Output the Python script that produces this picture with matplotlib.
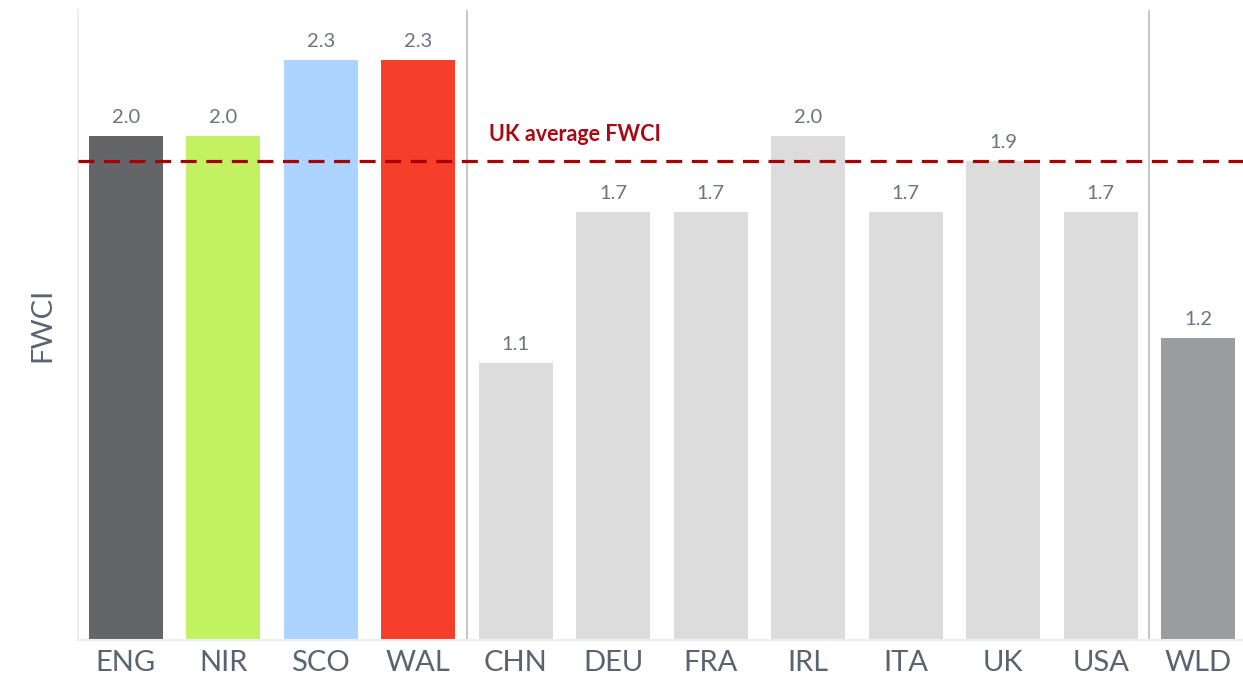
import matplotlib
matplotlib.use("Agg")
import matplotlib.pyplot as plt

# FWCI by country
countries = ["ENG", "NIR", "SCO", "WAL", "CHN", "DEU", "FRA", "IRL", "ITA", "UK", "USA", "WLD"]
fwci = [2.0, 2.0, 2.3, 2.3, 1.1, 1.7, 1.7, 2.0, 1.7, 1.9, 1.7, 1.2]
uk_average = 1.9
colors = ["#636569", "#c2f261", "#add3ff", "#f63f2a"] + ["#dcdcdc"] * 7 + ["#9b9c9e"]

plt.rcParams['font.family'] = ['Lato', 'DejaVu Sans']

fig = plt.figure(figsize=(12.43, 6.79), dpi=100)
ax = fig.add_axes([78 / 1243, 1 - 640 / 679, 1 - 78 / 1243, 630 / 679])

x = range(len(countries))
ax.bar(x, fwci, width=0.76, color=colors, zorder=2)

for i, v in enumerate(fwci):
    ax.text(i, v + 0.04, f"{v:.1f}", ha="center", va="bottom",
            fontsize=14.5, color="#6b7480")

# group separators
for sx in [3.5, 10.5]:
    ax.axvline(sx, color="#c8c8c8", lw=1.5, zorder=1)

ax.axhline(uk_average, color="#a80000", lw=2.3, ls=(0, (5, 3)), zorder=3)
ax.text(3.73, 1.965, "UK average FWCI", color="#a80a14", fontsize=15.5,
        fontweight="bold", va="bottom", ha="left")

ax.set_xlim(-0.49, 11.46)
ax.set_ylim(0, 2.5)
ax.set_xticks(list(x))
ax.set_xticklabels(countries, fontsize=21, color="#5a6470")
ax.tick_params(axis="x", length=0, pad=7)
ax.set_yticks([])
ax.set_ylabel("FWCI", fontsize=21, color="#5a6470", labelpad=16)

for side in ["top", "right"]:
    ax.spines[side].set_visible(False)
for side in ["left", "bottom"]:
    ax.spines[side].set_color("#eeeeee")
    ax.spines[side].set_linewidth(1.5)

fig.savefig("out.png", dpi=100)
